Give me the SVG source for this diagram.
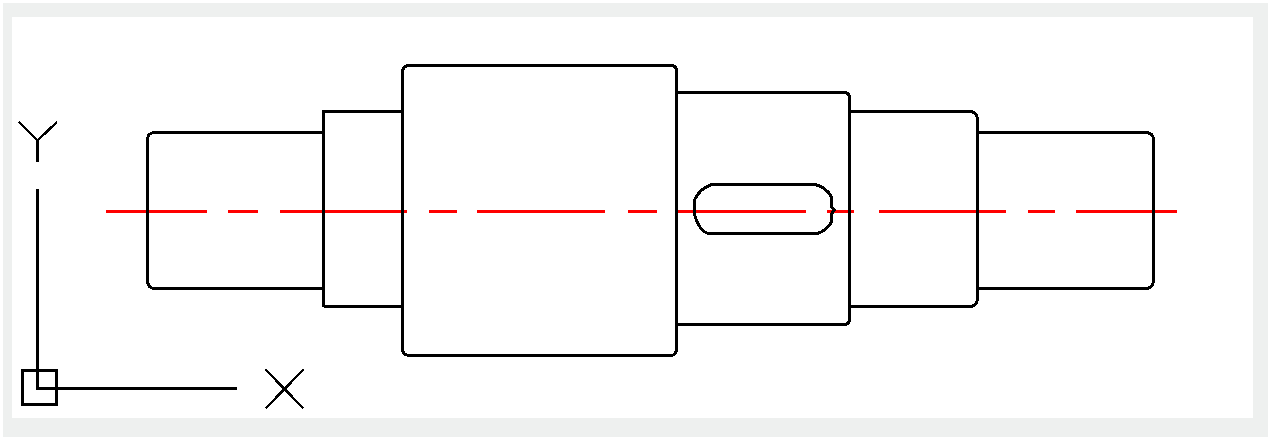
<svg xmlns="http://www.w3.org/2000/svg" width="1268" height="437" viewBox="0 0 1268 437">
<style>
.o{fill:none;stroke:#000;stroke-width:3;shape-rendering:crispEdges}
.t{fill:none;stroke:#000;stroke-width:2.4;shape-rendering:crispEdges}
.c{fill:none;stroke:#f00;stroke-width:3;shape-rendering:crispEdges}
</style>
<rect width="1268" height="437" fill="#fff"/>
<rect x="3" y="3" width="1265" height="434" fill="#eef0ef"/>
<rect x="12" y="17" width="1241" height="401" fill="#fff"/>
<g id="centerline">
<path class="c" d="M106 211.5H207M228 211.5H258M280 211.5H407M429 211.5H457M477 211.5H605M628 211.5H657M677 211.5H806M827 211.5H854M879 211.5H1006M1028 211.5H1055M1076 211.5H1177"/>
</g>
<g id="shaft">
<path class="o" d="M323.5 132.5H155Q147.5 132.5 147.5 140V280Q147.5 288.5 155 288.5H323.5"/>
<path class="o" d="M323.5 306.5V111.5H402.5M323.5 306.5H402.5"/>
<path class="o" d="M410 65.5H671Q676.5 65.500 676.5 71V347Q676.5 355.500 671 355.500H410Q402.500 355.500 402.500 348V72Q402.500 65.500 410 65.500Z"/>
<path class="o" d="M676.5 92.500H844Q849.500 92.500 849.500 98V319Q849.500 324.500 844 324.500H676.500"/>
<path class="o" d="M849.500 111.500H969Q977.500 111.500 977.500 120V298Q977.500 306.500 969 306.500H849.500"/>
<path class="o" d="M977.500 132.500H1145Q1153.500 132.500 1153.500 140V280Q1153.500 288.500 1145 288.500H977.500"/>
</g>
<g id="keyway">
<path class="o" d="M712 184.500H815Q826 187 831.500 197V207L834.500 210L831.500 214V222Q826 231 817 233.500H708Q700 231 695.500 218Q694 214 694.500 200Q700 188 712 184.500Z"/>
</g>
<g id="ucs-icon">
<path class="o" d="M37.500 140V162M37.500 189V388.500H237"/>
<rect class="o" x="22.500" y="370.500" width="33.500" height="33.500"/>
<path class="t" d="M19 122L37.500 140.500L57 122"/>
<path class="t" d="M265.500 369.500L303.500 408.500M303.500 369.500L265.500 408.500"/>
</g>
</svg>
